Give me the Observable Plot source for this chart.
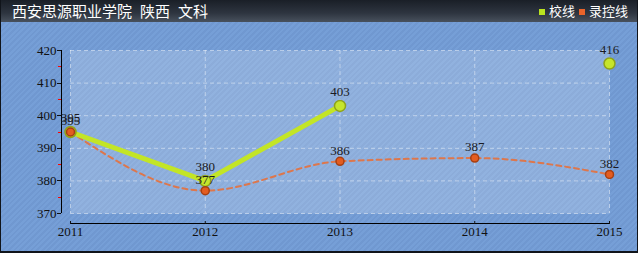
<!DOCTYPE html>
<html>
<head>
<meta charset="utf-8">
<script src="https://cdn.jsdelivr.net/npm/d3@7"></script>
<script src="https://cdn.jsdelivr.net/npm/@observablehq/plot@0.6"></script>
<style>
  html, body { margin: 0; padding: 0; background: #fff; }
  #wrap {
    position: relative; width: 638px; height: 253px; overflow: hidden;
    background-color: #769fd7;
    background-image: repeating-linear-gradient(135deg, rgba(255,255,255,0.0) 0px, rgba(255,255,255,0.0) 2px, rgba(60,90,150,0.10) 2px, rgba(60,90,150,0.10) 4px);
  }
  #bar {
    position: absolute; left: 0; top: 0; width: 638px; height: 22px;
    background: linear-gradient(#1a1f27, #2e3540 60%, #48515d);
    color: #fff; font-family: "Noto Sans CJK SC", sans-serif;
  }
  #title { position: absolute; left: 12px; top: 1px; font-size: 15px; line-height: 19px; white-space: pre; }
  #title span { margin-left: 8px; }
  #legend { position: absolute; right: 10px; top: 2px; font-size: 13px; line-height: 18px; white-space: nowrap; }
  .sw { display: inline-block; width: 6px; height: 6px; margin-right: 4px; vertical-align: 1px; }
  #chart { position: absolute; left: 0; top: 22px; }
  #border { position: absolute; left: 0; top: 0; width: 638px; height: 253px; box-sizing: border-box;
    border-left: 1px solid #10141a; border-right: 1px solid #10141a; border-bottom: 2px solid #10141a; pointer-events: none; }
</style>
</head>
<body>
<div id="wrap">
  <div id="bar">
    <div id="title">西安思源职业学院<span>陕西</span><span>文科</span></div>
    <div id="legend"></div>
  </div>
  <div id="chart"></div>
  <div id="border"></div>
</div>
<script>
const years = [2011, 2012, 2013, 2014, 2015];
const schoolLine = [395, 380, 403, null, 416];
const controlLine = [395, 377, 386, 387, 382];
const yTicks = [370, 380, 390, 400, 410, 420];
const yMinorTicks = [375, 385, 395, 405, 415];
const seriesNames = ["校线", "录控线"];
const seriesColors = ["#b9e31f", "#e8632a"];

const legend = document.getElementById("legend");
seriesNames.forEach((name, i) => {
  const sw = document.createElement("span");
  sw.className = "sw";
  sw.style.background = seriesColors[i];
  if (i > 0) sw.style.marginLeft = "4px";
  legend.appendChild(sw);
  legend.appendChild(document.createTextNode(name));
});

const schoolData = years.map((year, i) => ({year, value: schoolLine[i]}));
const controlData = years.map((year, i) => ({year, value: controlLine[i]}));
const schoolValid = schoolData.filter(d => d.value != null);

const chart = Plot.plot({
  width: 638,
  height: 231,
  marginLeft: 70,
  marginRight: 29,
  marginTop: 28,
  marginBottom: 40,
  style: {background: "transparent", fontFamily: "'Liberation Serif', serif", fontSize: "13px", color: "#1a1a22"},
  x: {domain: [2011, 2015], axis: null, label: null},
  y: {domain: [370, 420], axis: null, label: null},
  marks: [
    Plot.frame({fill: "#ffffff", fillOpacity: 0.2, stroke: null}),
    Plot.gridY(yTicks, {stroke: "#ffffff", strokeOpacity: 0.45, strokeDasharray: "4,3"}),
    Plot.gridX(years, {stroke: "#ffffff", strokeOpacity: 0.45, strokeDasharray: "4,3"}),
    Plot.ruleX([2011], {y1: 370, y2: 420, dx: -9, stroke: "#000"}),
    Plot.ruleY([370], {x1: 2011, x2: 2015, dy: 10, stroke: "#000"}),
    Plot.axisY(yTicks, {tickSize: 4, dx: -9, tickPadding: 1, color: "#111", label: null, tickFormat: d => String(d), fontSize: 13, shapeRendering: "crispEdges"}),
    Plot.axisY(yMinorTicks, {tickSize: 3, dx: -9, color: "#ff0000", label: null, tickFormat: () => "", shapeRendering: "crispEdges"}),
    Plot.axisX(years, {tickSize: 3, dy: 8, tickPadding: 2, color: "#111", label: null, tickFormat: d => String(d), fontSize: 13}),
    Plot.line(controlData, {x: "year", y: "value", curve: "monotone-x", stroke: "#e5703c", strokeOpacity: 0.9, strokeWidth: 2, strokeDasharray: "5,4"}),
    Plot.line(schoolData, {x: "year", y: "value", stroke: "#c3e526", strokeWidth: 5}),
    Plot.dot(schoolValid, {x: "year", y: "value", r: 5.5, fill: "#c6e52c", stroke: "#8fa31a", strokeWidth: 1.5}),
    Plot.dot(controlData, {x: "year", y: "value", r: 4, fill: "#e35c20", stroke: "#a63f12", strokeWidth: 1.5}),
    Plot.text(schoolValid, {x: "year", y: "value", text: d => String(d.value), dy: -14, fill: "#1a1a22", fontSize: 13}),
    Plot.text(controlData, {x: "year", y: "value", text: d => String(d.value), dy: -11, fill: "#1a1a22", fontSize: 13})
  ]
});
document.getElementById("chart").appendChild(chart);
</script>
</body>
</html>
